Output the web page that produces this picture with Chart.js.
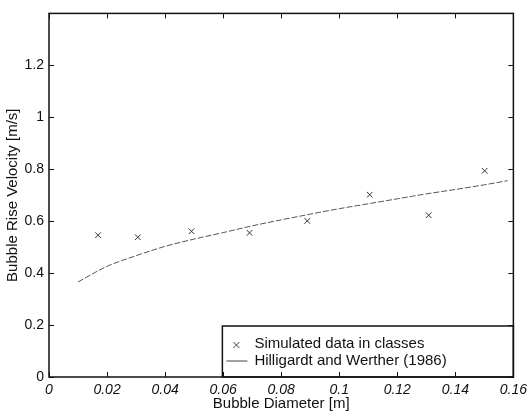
<!DOCTYPE html>
<html>
<head>
<meta charset="utf-8">
<script src="https://cdn.jsdelivr.net/npm/chart.js@4/dist/chart.umd.min.js"></script>
<style>
  body { margin: 0; background: #fff; }
  canvas { display: block; }
</style>
</head>
<body>
<canvas id="riseChart" width="532" height="414"></canvas>
<script>
// Simulated bubble classes: diameter [m] and rise velocity [m/s]
const simDiameter = [0.0169, 0.0306, 0.0491, 0.0691, 0.0890, 0.1105, 0.1308, 0.1501];
const simVelocity = [0.546, 0.538, 0.561, 0.555, 0.601, 0.702, 0.623, 0.794];

// Hilligardt and Werther (1986) correlation curve
const corrDiameter = [0.01, 0.02, 0.03, 0.04, 0.05, 0.06, 0.07, 0.08, 0.09, 0.10, 0.11, 0.12, 0.13, 0.14, 0.15, 0.158];
const corrVelocity = [0.366, 0.426, 0.467, 0.503, 0.531, 0.556, 0.582, 0.605, 0.627, 0.648, 0.667, 0.686, 0.705, 0.722, 0.740, 0.756];

const xTicks = [0, 0.02, 0.04, 0.06, 0.08, 0.1, 0.12, 0.14, 0.16];
const yTicks = [0, 0.2, 0.4, 0.6, 0.8, 1, 1.2];

const legendLabels = ['Simulated data in classes', 'Hilligardt and Werther (1986)'];

const FONT = '"Liberation Sans", Arial, Helvetica, sans-serif';

// frame with inward ticks on all four sides, plus the boxed legend
const framePlugin = {
    id: 'frame',
    afterDraw(chart) {
        const ctx = chart.ctx;
        const a = chart.chartArea;
        const xs = chart.scales.x, ys = chart.scales.y;

        // legend box in the lower right corner
        const lx = a.right - 291, ly = a.bottom - 51;
        ctx.save();
        ctx.fillStyle = '#fff';
        ctx.fillRect(lx, ly, a.right - lx, a.bottom - ly);
        ctx.strokeStyle = '#111';
        ctx.lineWidth = 1.5;
        ctx.strokeRect(lx, ly, a.right - lx, a.bottom - ly);

        // marker entry
        ctx.strokeStyle = '#444';
        ctx.lineWidth = 1;
        const mx = lx + 14, my = ly + 19;
        ctx.beginPath();
        ctx.moveTo(mx - 3, my - 3); ctx.lineTo(mx + 3, my + 3);
        ctx.moveTo(mx - 3, my + 3); ctx.lineTo(mx + 3, my - 3);
        ctx.stroke();
        // line entry
        ctx.beginPath();
        ctx.moveTo(lx + 4, ly + 35); ctx.lineTo(lx + 25, ly + 35);
        ctx.stroke();

        ctx.fillStyle = '#111';
        ctx.font = '15px ' + FONT;
        ctx.textBaseline = 'middle';
        ctx.textAlign = 'left';
        ctx.fillText(legendLabels[0], lx + 32, ly + 18);
        ctx.fillText(legendLabels[1], lx + 32, ly + 35);

        // axes box
        ctx.strokeStyle = '#111';
        ctx.lineWidth = 1.5;
        ctx.strokeRect(a.left, a.top, a.right - a.left, a.bottom - a.top);

        // inward tick marks
        ctx.lineWidth = 1;
        ctx.beginPath();
        xTicks.forEach(v => {
            const px = Math.round(xs.getPixelForValue(v)) + 0.5;
            ctx.moveTo(px, a.bottom); ctx.lineTo(px, a.bottom - 5);
            ctx.moveTo(px, a.top); ctx.lineTo(px, a.top + 5);
        });
        yTicks.forEach(v => {
            const py = Math.round(ys.getPixelForValue(v)) + 0.5;
            ctx.moveTo(a.left, py); ctx.lineTo(a.left + 5, py);
            ctx.moveTo(a.right, py); ctx.lineTo(a.right - 5, py);
        });
        ctx.stroke();
        ctx.restore();
    }
};

const chart = new Chart(document.getElementById('riseChart'), {
    type: 'scatter',
    data: {
        datasets: [
            {
                label: legendLabels[0],
                data: simDiameter.map((d, i) => ({ x: d, y: simVelocity[i] })),
                pointStyle: 'crossRot',
                pointRadius: 4,
                pointBorderWidth: 1,
                borderColor: '#333',
                showLine: false
            },
            {
                label: legendLabels[1],
                data: corrDiameter.map((d, i) => ({ x: d, y: corrVelocity[i] })),
                showLine: true,
                pointRadius: 0,
                borderColor: '#555',
                borderWidth: 1,
                borderDash: [6, 2],
                cubicInterpolationMode: 'monotone'
            }
        ]
    },
    options: {
        responsive: false,
        animation: false,
        devicePixelRatio: 1,
        layout: { padding: { top: 6, right: 16, bottom: 0, left: 0 } },
        plugins: {
            legend: { display: false },
            tooltip: { enabled: false }
        },
        scales: {
            x: {
                type: 'linear',
                min: 0,
                max: 0.16,
                afterFit: s => { s.height = 37; },
                afterBuildTicks: s => { s.ticks = xTicks.map(v => ({ value: v })); },
                grid: { display: false, drawTicks: false },
                border: { display: false },
                ticks: {
                    padding: 5,
                    color: '#111',
                    font: { family: FONT, size: 14, style: 'italic' },
                    maxRotation: 0,
                    callback: v => String(Number(v.toFixed(2)))
                },
                title: {
                    display: true,
                    text: 'Bubble Diameter [m]',
                    color: '#111',
                    font: { family: FONT, size: 15 },
                    padding: { top: 0, bottom: 1 }
                }
            },
            y: {
                type: 'linear',
                min: 0,
                max: 1.4,
                afterFit: s => { s.width = 49; },
                afterBuildTicks: s => { s.ticks = yTicks.map(v => ({ value: v })); },
                grid: { display: false, drawTicks: false },
                border: { display: false },
                ticks: {
                    padding: 5,
                    color: '#111',
                    font: { family: FONT, size: 14 },
                    callback: v => String(Number(v.toFixed(1)))
                },
                title: {
                    display: true,
                    text: 'Bubble Rise Velocity [m/s]',
                    color: '#111',
                    font: { family: FONT, size: 15 },
                    padding: { top: 4, bottom: 0 }
                }
            }
        }
    },
    plugins: [framePlugin]
});
</script>
</body>
</html>
